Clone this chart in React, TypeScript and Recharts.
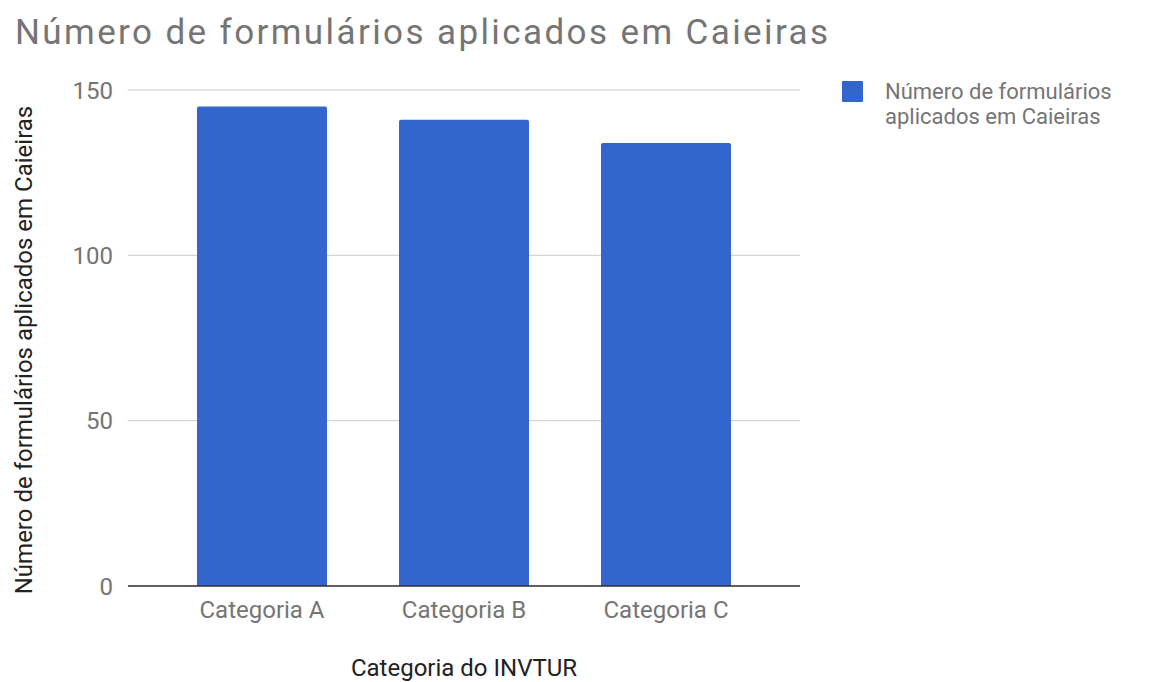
import React from "react";
import { BarChart, Bar, XAxis, YAxis, CartesianGrid } from "recharts";

const categories = ["Categoria A", "Categoria B", "Categoria C"];
const formularios = [145, 141, 134];
const yTicks = [0, 50, 100, 150];
const seriesName = "Número de formulários aplicados em Caieiras";
const chartTitle = "Número de formulários aplicados em Caieiras";
const xTitle = "Categoria do INVTUR";
const yTitle = "Número de formulários aplicados em Caieiras";
const legendLines = ["Número de formulários", "aplicados em Caieiras"];

const data = categories.map((c, i) => ({ category: c, value: formularios[i] }));

const FONT = "Roboto, 'Noto Sans', sans-serif";
const BLUE = "#3366cc";
const GRAY = "#757575";

const XTitle = (props: any) => {
  const vb = props.viewBox || {};
  return (
    <text x={vb.x + vb.width / 2} y={vb.y + 90} textAnchor="middle" fontFamily={FONT} fontSize={24} fill="#222">
      {xTitle}
    </text>
  );
};

const YTitle = (props: any) => {
  const vb = props.viewBox || {};
  const cx = 32;
  const cy = vb.y + vb.height / 2 + 12;
  return (
    <text x={cx} y={cy} textAnchor="middle" transform={`rotate(-90, ${cx}, ${cy})`} fontFamily={FONT} fontSize={24} fill="#222">
      {yTitle}
    </text>
  );
};

const LegendBox = () => (
  <div style={{ position: "absolute", left: 842, top: 80, display: "flex", alignItems: "flex-start", fontFamily: FONT }}>
    <div style={{ width: 21, height: 21, background: BLUE, marginTop: 1, borderRadius: 1 }} />
    <div style={{ marginLeft: 22, color: GRAY, fontSize: 22, lineHeight: "25px", marginTop: -1 }}>
      {legendLines.map((l) => (
        <div key={l} style={{ whiteSpace: "nowrap" }}>{l}</div>
      ))}
    </div>
  </div>
);

export default function App() {
  return (
    <div style={{ position: "absolute", left: 0, top: 0, width: 1149, height: 682, background: "#fff" }}>
      <svg width={1149} height={60} style={{ position: "absolute", left: 0, top: 0 }}>
        <text x={15} y={44} fontFamily={FONT} fontSize={35} fill={GRAY} textLength={813} lengthAdjust="spacing">
          {chartTitle}
        </text>
      </svg>
      <div style={{ position: "absolute", left: 0, top: 0 }}>
        <BarChart
          width={1149}
          height={682}
          data={data}
          margin={{ top: 90, right: 349, bottom: 0, left: 0 }}
        >
          <CartesianGrid horizontal vertical={false} stroke="#cccccc" />
          <XAxis
            dataKey="category"
            height={96}
            padding={{ left: 33, right: 33 }}
            tickLine={false}
            tickMargin={9}
            tick={{ fontFamily: FONT, fontSize: 24, fill: GRAY }}
            axisLine={{ stroke: "#333", strokeWidth: 1.5 }}
            label={<XTitle />}
          />
          <YAxis
            width={128}
            domain={[0, 150]}
            ticks={yTicks}
            tickLine={false}
            axisLine={false}
            tickMargin={9}
            tick={{ fontFamily: FONT, fontSize: 24, fill: GRAY }}
            label={<YTitle />}
          />
          <Bar dataKey="value" name={seriesName} fill={BLUE} barSize={130} radius={[2, 2, 0, 0]} isAnimationActive={false} />
        </BarChart>
      </div>
      <LegendBox />
    </div>
  );
}
